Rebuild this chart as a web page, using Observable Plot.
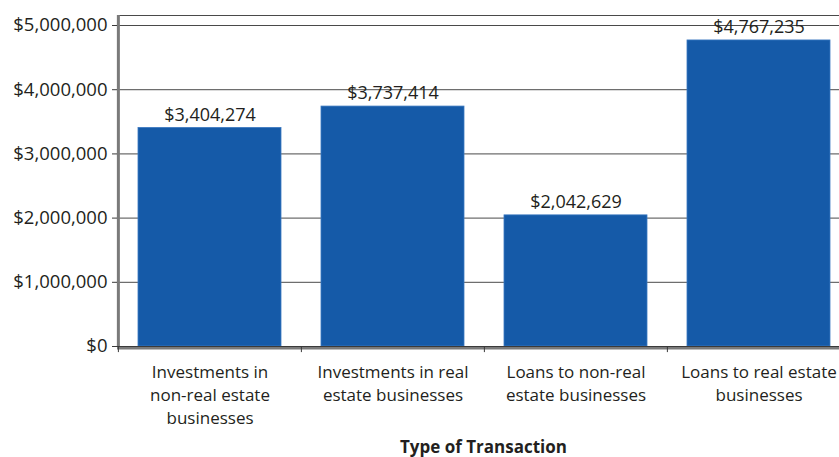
<!DOCTYPE html>
<html>
<head>
<meta charset="utf-8">
<script src="https://cdn.jsdelivr.net/npm/d3@7"></script>
<script src="https://cdn.jsdelivr.net/npm/@observablehq/plot@0.6"></script>
<style>
  html, body { margin: 0; padding: 0; background: #fff; overflow: hidden; }
  #wrap { width: 850px; }
  #title { font-family: "Open Sans", sans-serif; font-weight: bold; font-size: 17px; color: #231f20;
           padding-left: 117px; width: 733px; text-align: center; line-height: 20px; margin-top: 5px; }
</style>
</head>
<body>
<div id="wrap"></div>
<script>
const categories = [
  "Investments in non-real estate businesses",
  "Investments in real estate businesses",
  "Loans to non-real estate businesses",
  "Loans to real estate businesses"
];
const tickLabels = [
  "Investments in\nnon-real estate\nbusinesses",
  "Investments in real\nestate businesses",
  "Loans to non-real\nestate businesses",
  "Loans to real estate\nbusinesses"
];
const values = [3404274, 3737414, 2042629, 4767235];
const yTicks = [0, 1000000, 2000000, 3000000, 4000000, 5000000];
const xTitle = "Type of Transaction";

const data = categories.map((c, i) => ({category: c, value: values[i]}));

const W = 850, H = 432, mL = 117, mR = 0, mT = 15, mB = 86;
const yMax = 5156000;
const step = (W - mL - mR) / categories.length;
const fmt = d3.format("$,");

const chart = Plot.plot({
  width: W, height: H,
  marginLeft: mL, marginRight: mR, marginTop: mT, marginBottom: mB,
  style: {fontFamily: "Open Sans, sans-serif", fontSize: "17px", color: "#231f20", overflow: "visible"},
  x: {domain: categories, paddingInner: 0.22, paddingOuter: 0.11, align: 0.5, label: null},
  y: {domain: [0, yMax], label: null},
  marks: [
    Plot.gridY(yTicks, {stroke: "#4a4a4a", strokeOpacity: 1, strokeWidth: 1}),
    Plot.ruleY([yMax], {stroke: "#4a4a4a", strokeWidth: 1}),
    Plot.barY(data, {x: "category", y: "value", fill: "#155aa8", stroke: "#3a78c0", strokeWidth: 0.8}),
    Plot.ruleY([0], {stroke: "#7a7a7a", strokeWidth: 3, dy: 1.5}),
    Plot.ruleY([0], {stroke: "#3a3a3a", strokeWidth: 1}),
    Plot.ruleX([categories[0]], {x: d => d, dx: -step / 2, y1: 0, y2: yMax, stroke: "#7a7a7a", strokeWidth: 3}),
    Plot.ruleX(categories, {x: d => d, dx: -step / 2, y1: 0, y2: -95000, stroke: "#3a3a3a", strokeWidth: 1}),
    Plot.axisY(yTicks, {tickFormat: fmt, tickSize: 5, tickPadding: 5, stroke: "#3a3a3a", fill: "#231f20", fontSize: 18.5}),
    Plot.axisX({tickSize: 0, tickPadding: 15, lineHeight: 1.35, fontSize: 17, fill: "#231f20",
                tickFormat: d => tickLabels[categories.indexOf(d)]}),
    Plot.text(data, {x: "category", y: "value", text: d => fmt(d.value), dy: -13, fontSize: 18, fill: "#231f20"})
  ]
});
document.getElementById("wrap").appendChild(chart);
const t = document.createElement("div");
t.id = "title";
t.textContent = xTitle;
document.getElementById("wrap").appendChild(t);
</script>
</body>
</html>
